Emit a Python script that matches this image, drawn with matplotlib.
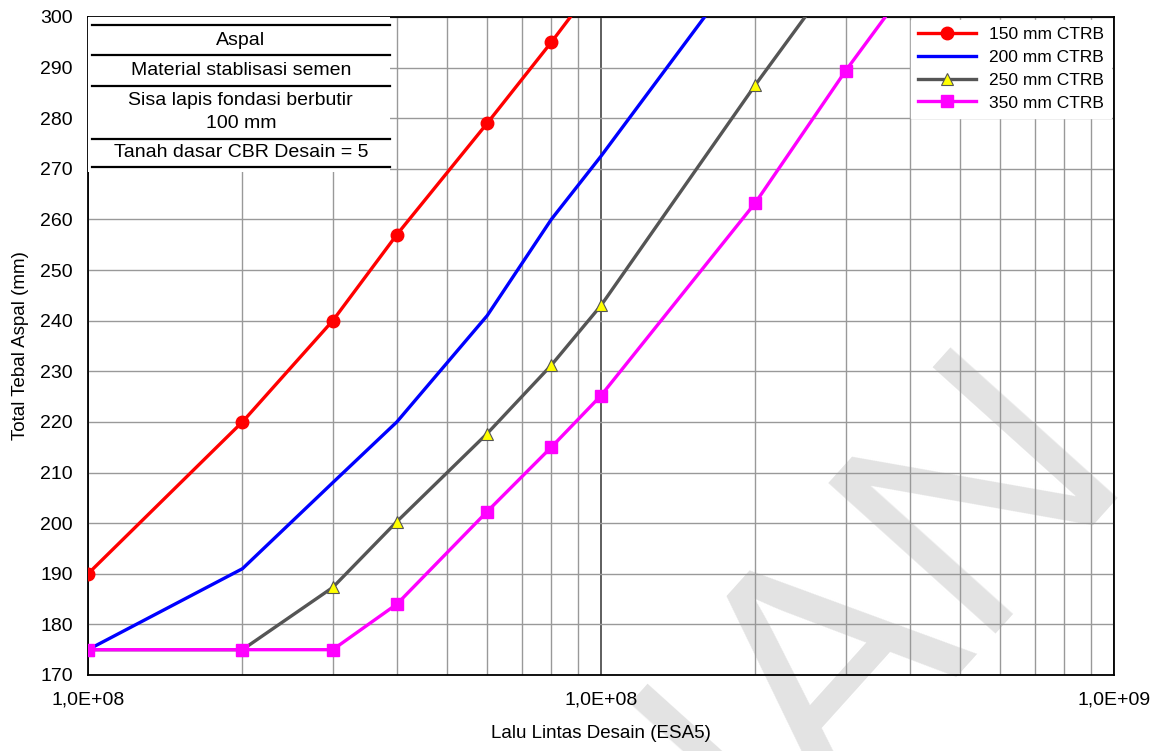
import matplotlib.pyplot as plt
import numpy as np
from matplotlib.patches import Rectangle
from matplotlib.ticker import FixedLocator, LogLocator, NullFormatter

plt.rcParams["font.family"] = ["Liberation Sans", "DejaVu Sans"]

# traffic (ESA5) and total asphalt thickness (mm) per CTRB thickness
esa_150 = [1e7, 2e7, 3e7, 4e7, 6e7, 8e7, 1e8]
tebal_150 = [190, 220, 240, 257, 279, 295, 308]

esa_200 = [1e7, 2e7, 3e7, 4e7, 6e7, 8e7, 1e8, 2e8]
tebal_200 = [175, 191, 208, 220, 241, 260, 272.5, 313.5]

esa_250 = [1e7, 2e7, 3e7, 4e7, 6e7, 8e7, 1e8, 2e8, 3e8]
tebal_250 = [175, 175, 187.3, 200.3, 217.7, 231.2, 243, 286.6, 311]

esa_350 = [1e7, 2e7, 3e7, 4e7, 6e7, 8e7, 1e8, 2e8, 3e8, 4e8]
tebal_350 = [175, 175, 175, 184, 202.3, 215, 225.2, 263.3, 289.4, 306.6]

x_ticks = [1e7, 1e8, 1e9]
x_ticklabels = ["1,0E+08", "1,0E+08", "1,0E+09"]
y_ticks = np.arange(170, 301, 10)

table_rows = ["Aspal", "Material stablisasi semen",
              "Sisa lapis fondasi berbutir\n100 mm", "Tanah dasar CBR Desain = 5"]

fig = plt.figure(figsize=(11.61, 7.51), dpi=100)
ax = fig.add_axes([0.0758, 0.1012, 0.8837, 0.8762])

ax.plot(esa_150, tebal_150, "-o", color="#ff0000", lw=2.4, ms=9,
        label="150 mm CTRB", zorder=4)
ax.plot(esa_200, tebal_200, "-", color="#0000ff", lw=2.4,
        label="200 mm CTRB", zorder=4)
ax.plot(esa_250, tebal_250, "-^", color="#555555", lw=2.4, ms=8,
        mfc="#ffff00", mec="#555555", mew=0.8, label="250 mm CTRB", zorder=4)
ax.plot(esa_350, tebal_350, "-s", color="#ff00ff", lw=2.4, ms=8,
        label="350 mm CTRB", zorder=5)

ax.set_xscale("log")
ax.set_xlim(1e7, 1e9)
ax.set_ylim(170, 300)
ax.xaxis.set_major_locator(FixedLocator(x_ticks))
ax.set_xticklabels(x_ticklabels)
ax.xaxis.set_minor_locator(LogLocator(base=10, subs=np.arange(2, 10)))
ax.xaxis.set_minor_formatter(NullFormatter())
ax.set_yticks(y_ticks)
ax.tick_params(which="both", length=0, labelsize=14)
ax.tick_params(axis="x", pad=12)
ax.tick_params(axis="y", pad=11)

ax.grid(True, which="major", axis="x", color="#333333", lw=1.1)
ax.grid(True, which="minor", axis="x", color="#999999", lw=1.0)
ax.grid(True, which="major", axis="y", color="#999999", lw=1.0)
for s in ax.spines.values():
    s.set_color("black")
    s.set_linewidth(1.3)

ax.set_xlabel("Lalu Lintas Desain (ESA5)", fontsize=13.5, labelpad=12)
ax.set_ylabel("Total Tebal Aspal (mm)", fontsize=13.5, labelpad=8)

# layer description table at top left
ax.add_patch(Rectangle((0, 0.764), 0.294, 0.236, transform=ax.transAxes,
                       facecolor="white", edgecolor="none", zorder=3))
for yl in [0.988, 0.942, 0.895, 0.815, 0.772]:
    ax.plot([0.004, 0.294], [yl, yl], color="black", lw=1.6,
            transform=ax.transAxes, zorder=3.5, clip_on=False)
for txt, yt in zip(table_rows, [0.9645, 0.918, 0.855, 0.7935]):
    ax.text(0.149, yt, txt, transform=ax.transAxes, ha="center", va="center",
            fontsize=14, linespacing=1.45, zorder=4)

leg = ax.legend(loc="upper right", fontsize=12.5, frameon=True, fancybox=False,
                edgecolor="white", framealpha=1, borderaxespad=0.15,
                handlelength=3.3, borderpad=0.4, labelspacing=0.45)
leg.set_zorder(6)

# watermark, behind the (transparent) axes
fig.text(0.917, 0.466, "NAN", fontsize=235, color="#e3e3e3", rotation=48,
         ha="right", va="center", rotation_mode="anchor", zorder=-1)
ax.set_facecolor("none")

fig.savefig("out.png", dpi=100)
